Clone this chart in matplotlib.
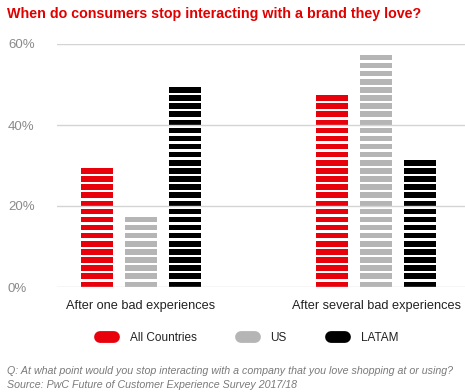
import matplotlib.pyplot as plt
import numpy as np
from matplotlib.lines import Line2D

plt.rcParams['font.family'] = ['Liberation Sans', 'DejaVu Sans']

categories = ["After one bad experiences", "After several bad experiences"]
series = ["All Countries", "US", "LATAM"]
all_countries = [30, 48]
us = [18, 58]
latam = [50, 32]
yticks = [0, 20, 40, 60]

colors = ["#e8000b", "#b5b5b5", "#000000"]
step = 2.0      # each stripe = 2 percentage points
stripe = 1.35

fig = plt.figure(figsize=(4.65, 3.92), dpi=100)
ax = fig.add_axes([57/465, 105/392, 408/465, 243/392])

x = np.arange(len(categories))
width = 0.136
offsets = [-0.187, 0, 0.187]

for vals, off, col in zip([all_countries, us, latam], offsets, colors):
    for xi, v in zip(x, vals):
        n = int(round(v / step))
        bottoms = np.arange(n) * step
        heights = np.full(n, stripe)
        ax.bar(np.full(n, xi + off), heights, width=width, bottom=bottoms,
               color=col, linewidth=0, zorder=2)

ax.set_xlim(-0.355, 1.378)
ax.set_ylim(0, 60)
ax.set_yticks(yticks)
ax.set_yticklabels([f"{t}%" for t in yticks])
for t in yticks:
    ax.axhline(t, color="#d4d4d4", lw=1, zorder=3)

ax.set_xticks(x)
ax.set_xticklabels(categories)
ax.tick_params(axis='x', length=0, pad=9, labelsize=9.2, labelcolor="#222222")
ax.tick_params(axis='y', length=0, pad=0, labelsize=9.5, labelcolor="#8a8a8a")
for lab in ax.get_yticklabels():
    lab.set_horizontalalignment('left')
    lab.set_x(-49/408)
for s in ax.spines.values():
    s.set_visible(False)

fig.text(7/465, 1 - 14/392, "When do consumers stop interacting with a brand they love?",
         color="#e00000", fontsize=10.25, fontweight="bold", va="center", ha="left")

handles = [Line2D([0], [0], color=c, lw=8.5, solid_capstyle='round') for c in colors]
fig.legend(handles, series, loc="center", bbox_to_anchor=(249/465, 1 - 338/392), ncol=3,
           frameon=False, fontsize=8.5, handlelength=1.2, handletextpad=1.35,
           columnspacing=3.7, labelcolor="#222222")

fig.text(7/465, 1 - 371/392,
         "Q: At what point would you stop interacting with a company that you love shopping at or using?",
         color="#7a7a7a", fontsize=7.7, style="italic", va="center", ha="left")
fig.text(7/465, 1 - 385/392, "Source: PwC Future of Customer Experience Survey 2017/18",
         color="#7a7a7a", fontsize=7.7, style="italic", va="center", ha="left")

fig.savefig("out.png", dpi=100)
